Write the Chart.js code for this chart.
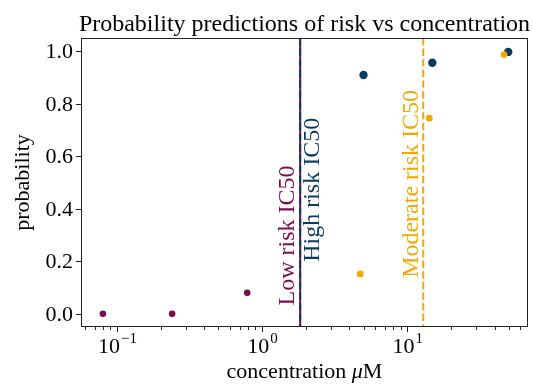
<!DOCTYPE html>
<html><head><meta charset="utf-8">
<script src="https://cdn.jsdelivr.net/npm/chart.js@4.4.1/dist/chart.umd.min.js"></script>
<style>html,body{margin:0;padding:0;background:#fff;}canvas{display:block;}</style>
</head><body>
<canvas id="c" width="533" height="386"></canvas>
<script>
// ---- data ----
const lowConc = [0.08, 0.24, 0.79];
const lowProb = [0.0, 0.0, 0.08];
const modConc = [4.75, 14.2, 46.5];
const modProb = [0.152, 0.745, 0.987];
const highConc = [5.0, 14.9, 49.7];
const highProb = [0.909, 0.956, 0.997];
const ic50Names = ["Low risk IC50", "High risk IC50", "Moderate risk IC50"];
const ic50Values = [1.83, 1.83, 12.9];
const yTicks = [0.0, 0.2, 0.4, 0.6, 0.8, 1.0];
const xMajorExp = [-1, 0, 1];
const xLimits = [0.0565, 68];
const yLimits = [-0.05, 1.05];

const PURPLE = '#7b0c50', BLUE = '#0a3a5e', ORANGE = '#f5a700';
const SERIF = '"Liberation Serif", "Times New Roman", serif';

function pts(xs, ys){ return xs.map((x,i)=>({x:x, y:ys[i]})); }

const annot = {
  id: 'annot',
  beforeDatasetsDraw(chart){
    const ctx = chart.ctx, xs = chart.scales.x, ys = chart.scales.y, a = chart.chartArea;
    ctx.save();
    const styles = [
      {color: PURPLE, dash: [], off: -6.5, yv: 0.032},
      {color: BLUE, dash: [7.4, 3.2], off: 18.5, yv: 0.198},
      {color: ORANGE, dash: [7.4, 3.2], off: -5, yv: 0.137}
    ];
    ic50Values.forEach((v,i)=>{
      const px = xs.getPixelForValue(v);
      ctx.beginPath();
      ctx.setLineDash(styles[i].dash);
      ctx.strokeStyle = styles[i].color;
      ctx.lineWidth = 2;
      ctx.moveTo(px, a.top); ctx.lineTo(px, a.bottom); ctx.stroke();
    });
    ctx.setLineDash([]);
    ic50Values.forEach((v,i)=>{
      const px = xs.getPixelForValue(v) + styles[i].off;
      const py = ys.getPixelForValue(styles[i].yv);
      ctx.save();
      ctx.translate(px, py);
      ctx.rotate(-Math.PI/2);
      ctx.font = '24px ' + SERIF;
      ctx.fillStyle = styles[i].color;
      ctx.textAlign = 'left';
      ctx.textBaseline = 'alphabetic';
      ctx.fillText(ic50Names[i], 0, 0);
      ctx.restore();
    });
    ctx.restore();
  },
  afterDraw(chart){
    const ctx = chart.ctx, xs = chart.scales.x, ys = chart.scales.y, a = chart.chartArea;
    ctx.save();
    ctx.strokeStyle = '#222';
    ctx.lineWidth = 1;
    ctx.strokeRect(a.left+0.5, a.top+0.5, a.right-a.left-1, a.bottom-a.top-1);
    // y ticks
    ctx.font = '22px ' + SERIF;
    ctx.fillStyle = '#000';
    ctx.textAlign = 'right';
    ctx.textBaseline = 'middle';
    yTicks.forEach(v=>{
      const py = Math.round(ys.getPixelForValue(v)) + 0.5;
      ctx.beginPath(); ctx.moveTo(a.left-5, py); ctx.lineTo(a.left, py); ctx.stroke();
      ctx.fillText(v.toFixed(1), a.left-8, py+1);
    });
    // x ticks (major + minor)
    for (let e = -2; e <= 2; e++){
      for (let m = 1; m <= 9; m++){
        const v = m * Math.pow(10, e);
        if (v < xLimits[0] || v > xLimits[1]) continue;
        const px = Math.round(xs.getPixelForValue(v)) + 0.5;
        const len = (m === 1) ? 5 : 3;
        ctx.beginPath(); ctx.moveTo(px, a.bottom); ctx.lineTo(px, a.bottom+len); ctx.stroke();
      }
    }
    xMajorExp.forEach(e=>{
      const px = xs.getPixelForValue(Math.pow(10, e));
      const base = '10', sup = (e < 0 ? '\u2212' : '') + Math.abs(e);
      ctx.font = '22px ' + SERIF;
      const wb = ctx.measureText(base).width;
      ctx.font = '15px ' + SERIF;
      const ws = ctx.measureText(sup).width;
      const x0 = px - (wb + ws)/2;
      ctx.textAlign = 'left'; ctx.textBaseline = 'alphabetic';
      ctx.font = '22px ' + SERIF;
      ctx.fillText(base, x0, 353);
      ctx.font = '15px ' + SERIF;
      ctx.fillText(sup, x0 + wb + 1, 343);
    });
    // title
    ctx.font = '24px ' + SERIF;
    ctx.textAlign = 'center'; ctx.textBaseline = 'alphabetic';
    ctx.fillText('Probability predictions of risk vs concentration', (a.left+a.right)/2, 31);
    // x title
    ctx.font = '22px ' + SERIF;
    const t1 = 'concentration ', t2 = '\u03bc', t3 = 'M';
    const w1 = ctx.measureText(t1).width, w3 = ctx.measureText(t3).width;
    ctx.font = 'italic 22px ' + SERIF;
    const w2 = ctx.measureText(t2).width;
    let xx = (a.left+a.right)/2 - (w1+w2+w3)/2;
    ctx.textAlign = 'left';
    ctx.font = '22px ' + SERIF; ctx.fillText(t1, xx, 378); xx += w1;
    ctx.font = 'italic 22px ' + SERIF; ctx.fillText(t2, xx, 378); xx += w2;
    ctx.font = '22px ' + SERIF; ctx.fillText(t3, xx, 378);
    // y title
    ctx.save();
    ctx.translate(29, (a.top+a.bottom)/2);
    ctx.rotate(-Math.PI/2);
    ctx.textAlign = 'center'; ctx.textBaseline = 'alphabetic';
    ctx.font = '22px ' + SERIF;
    ctx.fillText('probability', 0, 0);
    ctx.restore();
    ctx.restore();
  }
};

new Chart(document.getElementById('c'), {
  type: 'scatter',
  data: {
    datasets: [
      {label: 'Low risk', data: pts(lowConc, lowProb), backgroundColor: PURPLE, borderWidth: 0, pointRadius: 3.3},
      {label: 'Moderate risk', data: pts(modConc, modProb), backgroundColor: ORANGE, borderWidth: 0, pointRadius: 3.4},
      {label: 'High risk', data: pts(highConc, highProb), backgroundColor: BLUE, borderWidth: 0, pointRadius: 4.2}
    ]
  },
  options: {
    responsive: false,
    animation: false,
    events: [],
    layout: {padding: {left: 81, right: 5, top: 38, bottom: 59}},
    plugins: {legend: {display: false}, tooltip: {enabled: false}, title: {display: false}},
    scales: {
      x: {type: 'logarithmic', min: xLimits[0], max: xLimits[1], display: false},
      y: {type: 'linear', min: yLimits[0], max: yLimits[1], display: false}
    }
  },
  plugins: [annot]
});
</script>
</body></html>
